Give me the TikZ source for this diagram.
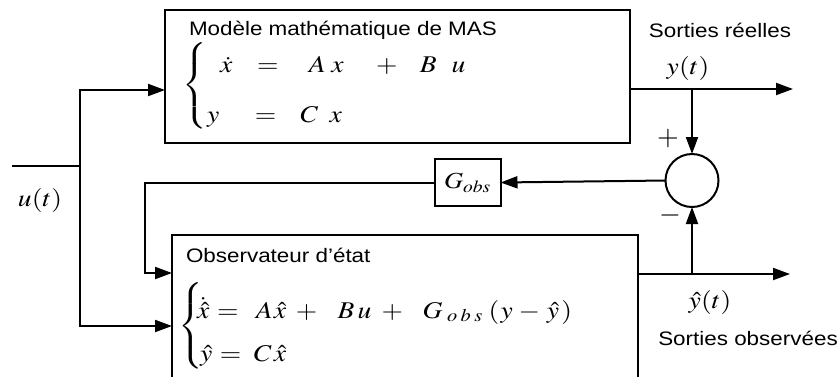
\documentclass[tikz,border=0pt]{standalone}
\usepackage{graphicx}
\usepackage{mathptmx}
\usepackage[no-math]{fontspec}
\setmainfont{Liberation Sans}
\usetikzlibrary{arrows.meta}
\newcommand{\hstretch}[1]{\scalebox{1.15}[1]{#1}}
\begin{document}
\begin{tikzpicture}[x=1pt,y=-1pt,
  line width=2pt,
  arr/.style={-{Triangle[length=17pt,width=12pt]}},
  blk/.style={draw, line width=2pt, rectangle, anchor=north west, inner sep=0pt, outer sep=0pt},
  lbl/.style={font=\fontsize{19.5}{23}\selectfont, inner sep=0pt},
  eq/.style={font=\fontsize{24}{29}\selectfont, inner sep=0pt, anchor=base west},
  big/.style={font=\fontsize{24}{28}\selectfont, inner sep=0pt},
  sgn/.style={font=\fontsize{28}{32}\selectfont, inner sep=0pt},
]
\useasboundingbox (0,0) rectangle (837,376);
\clip (0,0) rectangle (837,376);

% blocks
\node[blk, minimum width=465pt, minimum height=133pt] (mas) at (165,10) {};
\node[blk, minimum width=466pt, minimum height=160pt] (obs) at (172,235) {};
\node[draw, rectangle, minimum width=66pt, minimum height=47pt, inner sep=0pt, outer sep=0pt,
      font=\fontsize{23}{27}\selectfont] (gobs) at (467.5,182.5) {\hstretch{$G_{obs}$}};
\node[draw, circle, minimum size=53pt, inner sep=0pt, outer sep=0pt] (sum) at (692,180.5) {};

% texts inside blocks
\node[lbl, anchor=base west] (mastitle) at (188,35) {\hstretch{Modèle mathématique de MAS}};
\node[lbl, anchor=base west] (obstitle) at (185,262) {\hstretch{Observateur d’état}};

% model equations
\node[eq, anchor=center] (masbrace) at (195,85.5) {\hstretch{$\left\{\vrule height 48.5pt depth 36.5pt width 0pt\right.$}};
\node[eq] (masrow1) at (219,72) {\hstretch{$\dot{x}\hspace{21.5pt}{=}\hspace{26.4pt}A\hspace{5pt}x\hspace{28pt}{+}\hspace{19.5pt}B\hspace{13pt}u$}};
\node[eq] (masrow2) at (206,122) {\hstretch{$y\hspace{31pt}{=}\hspace{21pt}C\hspace{10pt}x$}};

% observer equations
\node[eq, anchor=center] (obsbrace) at (191,326) {\hstretch{$\left\{\vrule height 44.5pt depth 32.5pt width 0pt\right.$}};
\node[eq] (obsrow1) at (196,318) {\hstretch{$\dot{\hat{x}}\hspace{6.7pt}{=}\hspace{15.1pt}A\hspace{1pt}\hat{x}\hspace{8.4pt}{+}\hspace{17.7pt}B\hspace{2.7pt}u\hspace{8.9pt}{+}\hspace{16.9pt}G_{\hspace{4pt}o\hspace{3pt}b\hspace{3pt}s}\hspace{5pt}{(}\hspace{1pt}y\hspace{5pt}{-}\hspace{6pt}\hat{y}\hspace{2pt}{)}$}};
\node[eq] (obsrow2) at (199,361) {\hstretch{$\hat{y}\hspace{6.7pt}{=}\hspace{11pt}C\hspace{2pt}\hat{x}$}};

% outside labels
\node[big] (ulbl) at (40,200) {\hstretch{$u(t)$}};
\node[big] (ylbl) at (688,68) {\hstretch{$y(t)$}};
\node[big] (yhlbl) at (710,302) {\hstretch{$\hat{y}(t)$}};
\node[lbl, anchor=base] (sr) at (720,37) {\hstretch{Sorties réelles}};
\node[lbl, anchor=base] (so) at (748,345) {\hstretch{Sorties observées}};
\node[sgn] (plus) at (668,139) {$+$};
\node[sgn] (minus) at (670,215) {$-$};

% coordinates
\coordinate (in) at (12,166);
\coordinate (j1) at (80,166);
\coordinate (yout) at (793,89);
\coordinate (br1) at (692,89);
\coordinate (yhout) at (790,274);
\coordinate (br2) at (692,274);
\coordinate (fb) at (145,273);

% connectors
\draw (in) -- (j1);
\draw[arr] (j1) |- (mas.west |- 0,90);
\draw[arr] (j1) |- (obs.west |- 0,326);
\draw[arr] (mas.east |- br1) -- (yout);
\draw[arr] (br1) -- (sum.north);
\draw[arr] (sum.west) -- (gobs.east);
\draw[arr] (gobs.west) -| (fb) -- (obs.west |- fb);
\draw[arr] (obs.east |- br2) -- (yhout);
\draw[arr] (br2) -- (sum.south);
\end{tikzpicture}
\end{document}
